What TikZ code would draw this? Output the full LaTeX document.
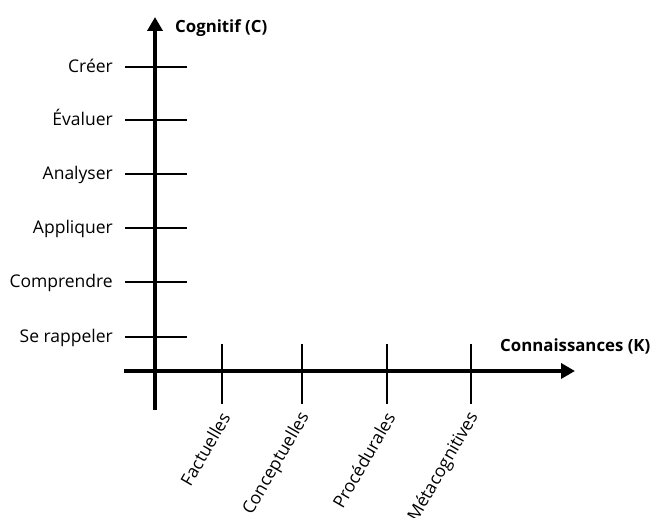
\documentclass[tikz,border=0pt]{standalone}
\usepackage{fontspec}
\setmainfont{Open Sans}
\usetikzlibrary{arrows.meta}
\tikzset{
  axis/.style={line width=4pt,-{Triangle[length=14pt,width=15pt]}},
  tickmark/.style={line width=2pt},
  level/.style={font=\fontsize{17.5}{19}\selectfont,anchor=base east,inner sep=0pt},
  kind/.style={font=\fontsize{17.5}{19}\selectfont,anchor=east,rotate=60,inner sep=1pt},
  title/.style={font=\fontsize{16.8}{18}\selectfont\bfseries,anchor=base west,inner sep=0pt}
}
\begin{document}
\begin{tikzpicture}[x=1pt,y=-1pt]
\useasboundingbox[fill=white] (0,0) rectangle (654,518);
% axes
\coordinate (ybot) at (155,410);
\coordinate (ytop) at (155,17);
\coordinate (xleft) at (124,371);
\coordinate (xright) at (575,371);
\draw[axis] (ybot) -- (ytop);
\draw[axis] (xleft) -- (xright);
\node[title] (ctitle) at (175,33) {Cognitif (C)};
\node[title] (ktitle) at (500,352) {Connaissances (K)};
% cognitive levels
\foreach \y/\name/\txt in {67/l6/Créer,120/l5/Évaluer,174/l4/Analyser,228/l3/Appliquer,282/l2/Comprendre,337/l1/Se rappeler}{
  \coordinate (\name a) at (125,\y);
  \coordinate (\name b) at (187,\y);
  \draw[tickmark] (\name a) -- (\name b);
  \node[level] (\name) at (113,\y+6) {\txt};
}
% knowledge kinds
\foreach \x/\name/\txt in {222/k1/Factuelles,302/k2/Conceptuelles,387/k3/Procédurales,471/k4/Métacognitives}{
  \coordinate (\name a) at (\x,344);
  \coordinate (\name b) at (\x,404);
  \draw[tickmark] (\name a) -- (\name b);
  \node[kind] (\name) at (\x+4,413) {\txt};
}
\end{tikzpicture}
\end{document}
